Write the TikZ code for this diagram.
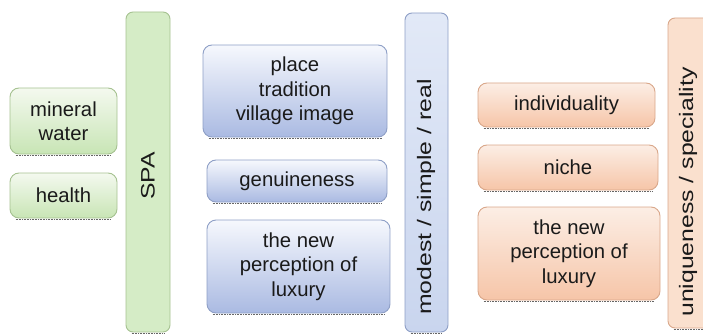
\documentclass[tikz,border=0pt]{standalone}
\usepackage{fontspec}
\setmainfont{Liberation Sans}
\usetikzlibrary{calc}
\definecolor{gtop}{HTML}{F4F9EF}
\definecolor{gbot}{HTML}{C8E5B5}
\definecolor{gline}{HTML}{A6C291}
\definecolor{gbar}{HTML}{D5ECC6}
\definecolor{btop}{HTML}{F6F8FD}
\definecolor{bbot}{HTML}{AABAE2}
\definecolor{bline}{HTML}{8E9FC6}
\definecolor{bbartop}{HTML}{E2E9F7}
\definecolor{bbarbot}{HTML}{C9D5EE}
\definecolor{otop}{HTML}{FCEEE5}
\definecolor{obot}{HTML}{F6C5A8}
\definecolor{oline}{HTML}{D9A78A}
\definecolor{obar}{HTML}{FAE0CE}
\definecolor{txt}{HTML}{1A1A1A}
\tikzset{
  base/.style={rounded corners=9pt, line width=0.9pt, inner sep=0pt, align=center,
    text=txt, font=\fontsize{20.3}{24.5}\selectfont},
  gbox/.style={base, draw=gline, top color=gtop, bottom color=gbot},
  bbox/.style={base, draw=bline, top color=btop, bottom color=bbot},
  obox/.style={base, draw=oline, top color=otop, bottom color=obot},
  gbarst/.style={base, rounded corners=7pt, draw=gline, fill=gbar},
  bbarst/.style={base, rounded corners=7pt, draw=bline, top color=bbartop, bottom color=bbarbot},
  obarst/.style={base, rounded corners=7pt, draw=oline, fill=obar},
  vtext/.style={rotate=90, text=txt, inner sep=0pt, font=\fontsize{19.5}{23}\selectfont},
  dotline/.style={draw=black!60, line width=1.1pt, dash pattern=on 0.8pt off 0.8pt}
}
\newcommand{\vstretch}[1]{\scalebox{1.27}[1]{#1}}
\begin{document}
\begin{tikzpicture}[x=1pt,y=-1pt]
\useasboundingbox (0,0) rectangle (703,334);
\clip (0,0) rectangle (703,334);
% green group
\node[gbox, minimum width=107pt, minimum height=66pt] (mw) at (63.5,121) {mineral\\water};
\node[gbox, minimum width=107pt, minimum height=45pt] (he) at (63.5,195.5) {health};
\node[gbarst, minimum width=44pt, minimum height=320pt] (spa) at (148,172) {};
\node[vtext] (spat) at (148,176) {\vstretch{SPA}};
% blue group
\node[bbox, minimum width=184pt, minimum height=92pt] (pl) at (295,91) {place\\tradition\\village image};
\node[bbox, minimum width=180pt, minimum height=42pt] (ge) at (297,181) {genuineness};
\node[bbox, minimum width=183pt, minimum height=93pt] (nl1) at (298.5,266.5) {the new\\perception of\\luxury};
\node[bbarst, minimum width=43pt, minimum height=319pt] (mo) at (426.5,172.5) {};
\node[vtext] (mot) at (426,197) {\vstretch{modest / simple / real}};
% orange group
\node[obox, minimum width=177pt, minimum height=44pt] (in) at (566.5,105) {individuality};
\node[obox, minimum width=180pt, minimum height=45pt] (ni) at (568,167.5) {niche};
\node[obox, minimum width=182pt, minimum height=93pt] (nl2) at (569,253.5) {the new\\perception of\\luxury};
\node[obarst, minimum width=44pt, minimum height=310pt] (un) at (690,173) {};
\node[vtext] (unt) at (688,192) {\vstretch{uniqueness / speciality}};
% dotted bottom shadows
\foreach \n in {mw,he,spa,pl,ge,nl1,mo,in,ni,nl2,un}{
  \draw[dotline] ($(\n.south west)+(6,1)$) -- ($(\n.south east)+(-6,1)$);
}
\end{tikzpicture}
\end{document}
